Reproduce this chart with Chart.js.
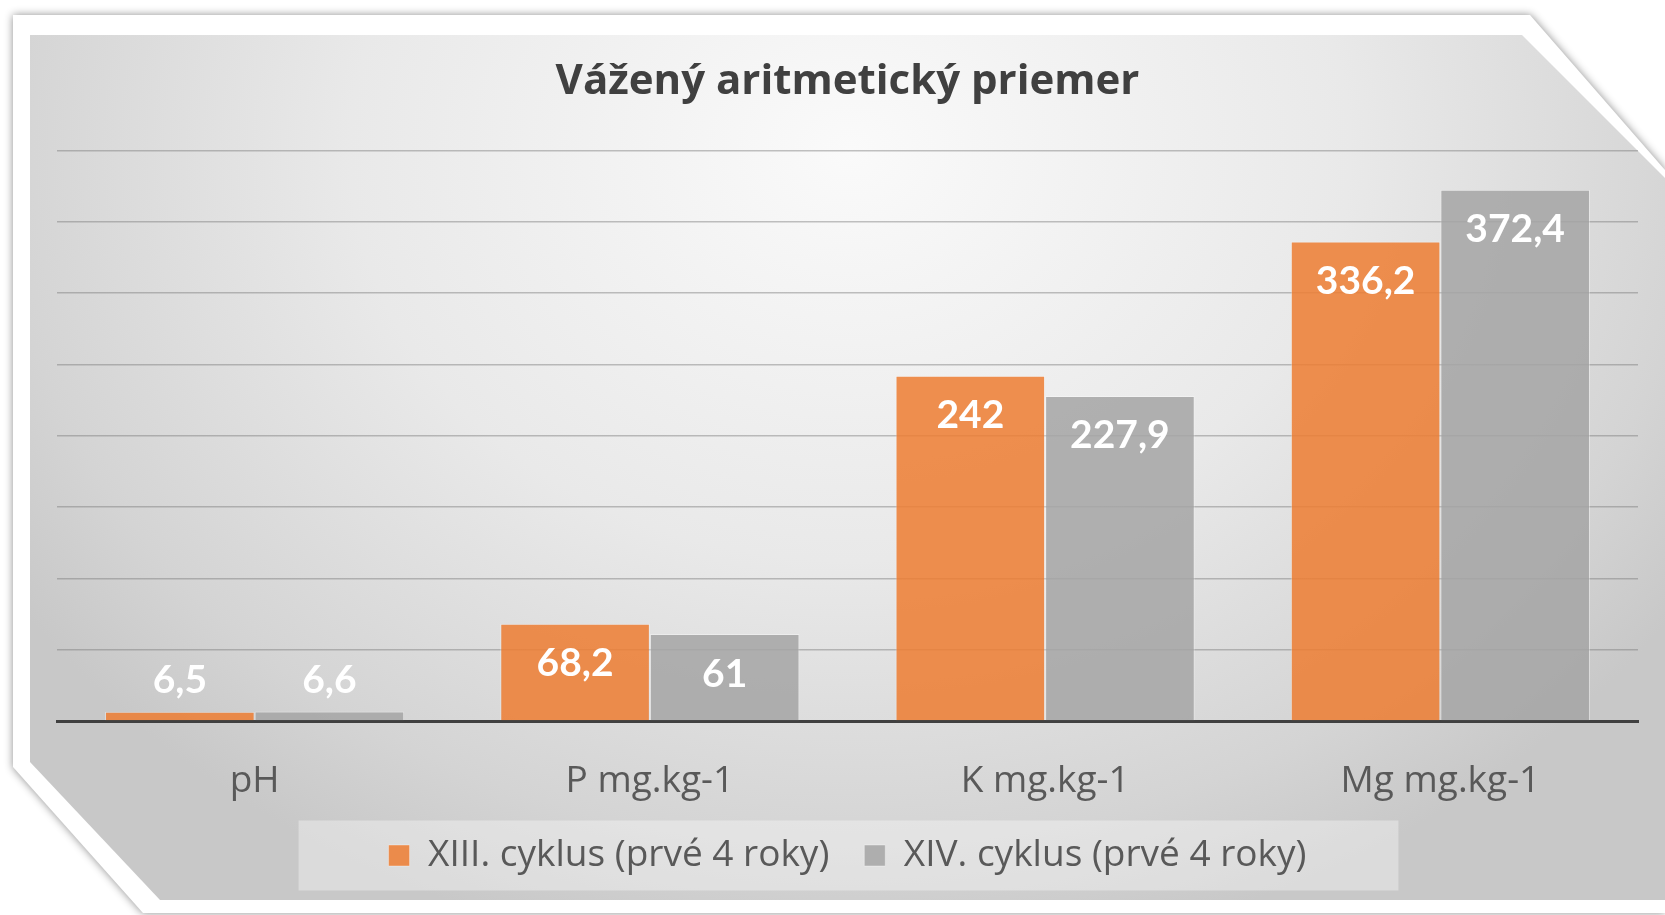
<!DOCTYPE html>
<html>
<head>
<meta charset="utf-8">
<script src="https://cdn.jsdelivr.net/npm/chart.js@4.4.0/dist/chart.umd.min.js"></script>
<style>
html,body{margin:0;padding:0;background:#fff;width:1665px;height:915px;overflow:hidden}
#shadow{position:absolute;left:0;top:0;width:1665px;height:915px;filter:drop-shadow(0 0 4px rgba(0,0,0,.45))}
#frame{position:absolute;left:0;top:0;width:1665px;height:915px;background:#fff;
  clip-path:polygon(13px 15px,1530px 15px,1665px 170px,1665px 913px,143px 913px,13px 767px)}
#panel{position:absolute;left:0;top:0;width:1665px;height:915px;
  background:radial-gradient(ellipse 1000px 820px at 850px 150px,#fafafa 0%,#e9e9e9 50%,#d4d4d4 85%,#c8c8c8 100%);
  clip-path:polygon(30px 35px,1522px 35px,1665px 178px,1665px 900px,160px 900px,30px 762px)}
#c{position:absolute;left:0;top:0}
</style>
</head>
<body>
<div id="shadow"><div id="frame"></div><div id="panel"></div></div>
<canvas id="c" width="1665" height="915"></canvas>
<script>
// ================= DATA =================
const categories = ["pH", "P mg.kg-1", "K mg.kg-1", "Mg mg.kg-1"];
const seriesNames = ["XIII. cyklus (prvé 4 roky)", "XIV. cyklus (prvé 4 roky)"];
const cyklus13 = [6.5, 68.2, 242, 336.2];
const cyklus14 = [6.6, 61, 227.9, 372.4];
const yMax = 400;
const yStep = 50;

const FONT = "'Open Sans', Lato, sans-serif";
const LABEL_FONT = "Lato, 'Open Sans', sans-serif";

// ================= PLUGINS =================
// value labels: inside the bar near its top, above it if the bar is too short
const valueLabels = {
  id: "valueLabels",
  afterDatasetsDraw(chart) {
    const ctx = chart.ctx;
    ctx.save();
    ctx.font = "bold 39px " + LABEL_FONT;
    ctx.fillStyle = "#ffffff";
    ctx.textAlign = "center";
    ctx.textBaseline = "middle";
    chart.data.datasets.forEach((ds, i) => {
      chart.getDatasetMeta(i).data.forEach((bar, j) => {
        const h = bar.base - bar.y;
        const txt = String(ds.data[j]).replace(".", ",");
        const y = h > 60 ? bar.y + 40 : bar.y - 31;
        ctx.fillText(txt, bar.x, y);
      });
    });
    ctx.restore();
  }
};

// light panel behind the legend
const legendPanel = {
  id: "legendPanel",
  beforeDraw(chart) {
    const boxes = chart.legend && chart.legend.legendHitBoxes;
    if (!boxes || !boxes.length) return;
    const l = Math.min(...boxes.map(b => b.left));
    const r = Math.max(...boxes.map(b => b.left + b.width));
    const t = boxes[0].top, h = boxes[0].height;
    const ctx = chart.ctx;
    ctx.save();
    ctx.fillStyle = "rgba(255,255,255,0.35)";
    ctx.fillRect(l - 90, t + h / 2 - 35, (r - l) + 182, 70);
    ctx.restore();
  }
};

// ================= CHART =================
new Chart(document.getElementById("c"), {
  type: "bar",
  data: {
    labels: categories,
    datasets: [
      { label: seriesNames[0], data: cyklus13, backgroundColor: "rgba(237,125,49,0.85)",
        borderColor: "rgba(255,255,255,0.35)", borderWidth: 1 },
      { label: seriesNames[1], data: cyklus14, backgroundColor: "rgba(165,165,165,0.85)",
        borderColor: "rgba(255,255,255,0.35)", borderWidth: 1 }
    ]
  },
  options: {
    responsive: false,
    devicePixelRatio: 1,
    animation: false,
    layout: { padding: { left: 57, right: 27, top: 0, bottom: 31 } },
    datasets: { bar: { categoryPercentage: 0.757, barPercentage: 1.0 } },
    scales: {
      x: {
        grid: { display: false, drawTicks: false },
        border: { display: true, color: "#404040", width: 3 },
        ticks: { color: "#595959", padding: 42, font: { family: FONT, size: 37, lineHeight: 1.0 } },
        afterFit: s => { s.height = 81; }
      },
      y: {
        min: 0, max: yMax,
        grid: { color: "rgba(120,120,120,0.45)", lineWidth: 1.5, drawTicks: false },
        border: { display: false },
        ticks: { display: false, stepSize: yStep }
      }
    },
    plugins: {
      title: {
        display: true,
        text: "Vážený aritmetický priemer",
        color: "#404040",
        font: { family: FONT, size: 42, weight: "bold", lineHeight: 1.2 },
        padding: { top: 57, bottom: 43 }
      },
      legend: {
        position: "bottom",
        labels: {
          color: "#595959",
          boxWidth: 21, boxHeight: 21,
          padding: 35,
          font: { family: FONT, size: 37 }
        }
      },
      tooltip: { enabled: false }
    }
  },
  plugins: [valueLabels, legendPanel]
});
</script>
</body>
</html>
